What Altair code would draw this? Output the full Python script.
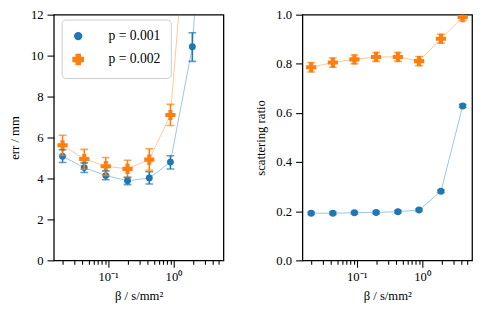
import altair as alt
import pandas as pd

# ---- data ----
beta = [0.02, 0.043, 0.092, 0.198, 0.427, 0.9, 1.95, 4.2]
series = ["p = 0.001", "p = 0.002"]

err_p1 = [5.08, 4.53, 4.14, 3.89, 4.02, 4.80, 10.43, 26.0]
err_p1_lo = [4.78, 4.29, 3.94, 3.70, 3.73, 4.46, 9.72, 24.5]
err_p1_hi = [5.40, 4.76, 4.37, 4.06, 4.33, 5.11, 11.12, 27.5]

err_p2 = [5.62, 4.95, 4.60, 4.47, 4.92, 7.10, 20.0, 32.0]
err_p2_lo = [5.12, 4.45, 4.15, 4.05, 4.40, 6.59, 18.8, 30.0]
err_p2_hi = [6.11, 5.42, 5.02, 4.89, 5.45, 7.62, 21.2, 34.0]

ratio_p1 = [0.192, 0.192, 0.194, 0.195, 0.198, 0.205, 0.281, 0.628]
ratio_p1_lo = [0.187, 0.187, 0.189, 0.190, 0.193, 0.200, 0.276, 0.622]
ratio_p1_hi = [0.197, 0.197, 0.199, 0.200, 0.203, 0.210, 0.286, 0.634]

ratio_p2 = [0.786, 0.805, 0.818, 0.828, 0.828, 0.811, 0.902, 0.990]
ratio_p2_lo = [0.767, 0.786, 0.800, 0.810, 0.810, 0.792, 0.884, 0.975]
ratio_p2_hi = [0.805, 0.824, 0.836, 0.846, 0.846, 0.830, 0.920, 1.005]

minor_ticks = [0.02, 0.03, 0.04, 0.05, 0.06, 0.07, 0.08, 0.09,
               0.2, 0.3, 0.4, 0.5, 0.6, 0.7, 0.8, 0.9,
               2, 3, 4, 5]
major_ticks = [0.1, 1]

FONT = "Liberation Serif"


def frame(v1, lo1, hi1, v2, lo2, hi2):
    rows = []
    for s, v, lo, hi in ((series[0], v1, lo1, hi1), (series[1], v2, lo2, hi2)):
        for b, a, l, h in zip(beta, v, lo, hi):
            rows.append({"beta": b, "series": s, "val": a, "lo": l, "hi": h})
    return pd.DataFrame(rows)


df_err = frame(err_p1, err_p1_lo, err_p1_hi, err_p2, err_p2_lo, err_p2_hi)
df_ratio = frame(ratio_p1, ratio_p1_lo, ratio_p1_hi, ratio_p2, ratio_p2_lo, ratio_p2_hi)

XSCALE = alt.Scale(type="log", domain=[0.0147, 5.85], nice=False)
XTITLE = "β / s/mm²"


def panel(df, ydomain, yvalues, ytitle, yfmt, with_legend):
    base = alt.Chart(df)
    yscale = alt.Scale(domain=ydomain, nice=False, zero=False)
    if with_legend:
        leg = alt.Legend(orient="none", legendX=8, legendY=5, title=None,
                         fillColor="white", strokeColor="#cccccc", cornerRadius=4,
                         padding=10, labelFontSize=14, symbolSize=80,
                         labelOffset=24, rowPadding=8,
                         labelFont=FONT, labelColor="black")
    else:
        leg = None
    color = alt.Color("series:N",
                      scale=alt.Scale(domain=series, range=["#1f77b4", "#ff7f0e"]),
                      legend=leg)
    shape = alt.Shape("series:N",
                      scale=alt.Scale(domain=series, range=["circle", "cross"]),
                      legend=leg)
    size = alt.Size("series:N", scale=alt.Scale(domain=series, range=[50, 110]),
                    legend=None)

    yaxis = alt.Axis(values=yvalues, title=ytitle, tickSize=7, labelPadding=4,
                     titlePadding=9, format=yfmt, labelFont=FONT, titleFont=FONT)

    line = base.mark_line(strokeWidth=0.8, opacity=0.55, clip=True).encode(
        x=alt.X("beta:Q", scale=XSCALE,
                axis=alt.Axis(values=minor_ticks, labels=False, tickSize=4,
                              title=None, orient="bottom")),
        y=alt.Y("val:Q", scale=yscale, axis=yaxis),
        color=color,
    )
    rule = base.mark_rule(strokeWidth=1.6, clip=True).encode(
        x=alt.X("beta:Q", scale=XSCALE, axis=None),
        y=alt.Y("lo:Q", scale=yscale),
        y2="hi:Q",
        color=color,
    )
    cap_lo = base.mark_tick(orient="horizontal", size=8, thickness=1.6, clip=True).encode(
        x=alt.X("beta:Q", scale=XSCALE, axis=None),
        y=alt.Y("lo:Q", scale=yscale),
        color=color,
    )
    cap_hi = base.mark_tick(orient="horizontal", size=8, thickness=1.6, clip=True).encode(
        x=alt.X("beta:Q", scale=XSCALE, axis=None),
        y=alt.Y("hi:Q", scale=yscale),
        color=color,
    )
    pts = base.mark_point(filled=True, opacity=1, clip=True).encode(
        x=alt.X("beta:Q", scale=XSCALE,
                axis=alt.Axis(values=major_ticks, tickSize=7, labelPadding=4,
                              title=XTITLE, titlePadding=6, orient="bottom",
                              labelFont=FONT, titleFont=FONT,
                              labelExpr="datum.value == 1 ? '10⁰' : (datum.value < 0.5 ? '10⁻¹' : '')")),
        y=alt.Y("val:Q", scale=yscale),
        color=color,
        shape=shape,
        size=size,
    )
    return alt.layer(pts, line, rule, cap_lo, cap_hi).resolve_axis(
        x="independent").properties(width=174, height=252)


left = panel(df_err, [0, 12], [0, 2, 4, 6, 8, 10, 12], "err / mm", "d", True)
right = panel(df_ratio, [0, 1], [0, 0.2, 0.4, 0.6, 0.8, 1.0], "scattering ratio", ".1f", False)

chart = alt.hconcat(left, right, spacing=30).resolve_scale(
    color="independent", shape="independent", size="independent"
).properties(
    padding={"left": 0, "top": -4, "right": 2, "bottom": 0}
).configure_view(
    stroke="black", strokeWidth=1.3
).configure_axis(
    labelFont=FONT, titleFont=FONT,
    labelFontSize=13, titleFontSize=13, titleFontWeight="normal",
    labelColor="black", titleColor="black", tickColor="black",
    tickWidth=1.1, domain=False, grid=False,
).configure_legend(
    labelFont=FONT
)

chart.save("out.html", embed_options={"renderer": "svg", "actions": False})
